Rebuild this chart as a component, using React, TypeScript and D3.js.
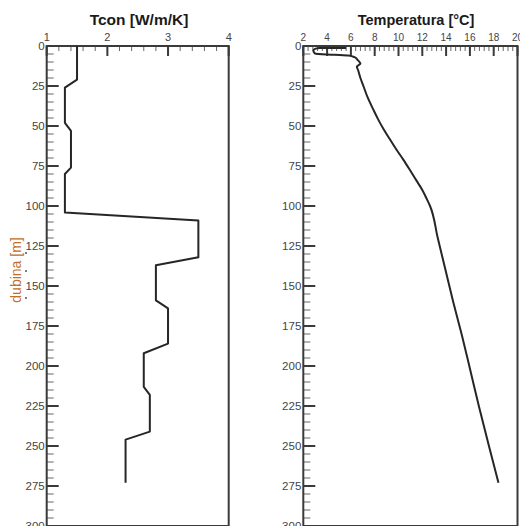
import * as d3 from 'd3';

// Tcon profile (thermal conductivity vs depth)
const tconDepth = [0, 21, 26, 48, 53, 76, 80, 104, 109, 132, 137, 159, 164, 186, 192, 213, 218, 241, 246, 273];
const tconValue = [1.5, 1.5, 1.3, 1.3, 1.4, 1.4, 1.3, 1.3, 3.5, 3.5, 2.8, 2.8, 3.0, 3.0, 2.6, 2.6, 2.7, 2.7, 2.3, 2.3];

// temperature profile
const tempDepth = [1.2, 1.2, 2.2, 3.2, 4.8, 5.5, 6, 7, 9, 11, 13, 15, 20, 25, 32, 40, 46, 52, 58, 65, 71, 78, 84, 90, 96, 100, 120, 140, 160, 180, 200, 225, 250, 273];
const tempValue = [5.6, 3.3, 2.9, 2.85, 3.0, 4.6, 5.8, 6.3, 6.6, 6.8, 6.5, 6.6, 6.8, 7.05, 7.4, 7.9, 8.3, 8.75, 9.25, 9.85, 10.4, 11.0, 11.5, 12.0, 12.4, 12.65, 13.3, 13.95, 14.6, 15.3, 15.95, 16.75, 17.6, 18.4];

const depthTicks = d3.range(0, 301, 25);
const depthMinor = d3.range(0, 301, 5);
const tconTicks = [1, 2, 3, 4];
const tempTicks = d3.range(2, 21, 2);

const W = 520;
const H = 526;
const frameColor = '#3a3a3a';
const textColor = '#454545';
const font = '"Liberation Sans", Arial, sans-serif';

const y = d3.scaleLinear().domain([0, 300]).range([46, 526]);
const xTcon = d3.scaleLinear().domain([1, 4]).range([46.7, 228.7]);
const xTemp = d3.scaleLinear().domain([2, 20]).range([303.3, 517.5]);

interface PanelProps {
  x: d3.ScaleLinear<number, number>
  ticks: number[]
  minor: number[]
  title: string
  titleX: number
  titleSize: number
  depth: number[]
  values: number[]
  curve: d3.CurveFactory
  topFont: number
}

const Panel = ({ x, ticks, minor, title, titleX, titleSize, depth, values, curve, topFont }: PanelProps) => {
  const [x0, x1] = x.range();
  const [y0, y1] = y.range();
  const pts = depth.map((d, i) => [values[i], d] as [number, number]);
  const line = d3.line<[number, number]>()
    .x(d => x(d[0]))
    .y(d => y(d[1]))
    .curve(curve);

  return (
    <g>
      <text x={titleX} y={25} textAnchor="middle" fontSize={titleSize} fontWeight="bold"
        fill="#1a1a1a" fontFamily={font}>{title}</text>

      {/* top axis ticks */}
      {minor.map(v => (
        <line key={'mx' + v} x1={x(v)} x2={x(v)} y1={y0} y2={y0 + 5} stroke="#666" strokeWidth={1} />
      ))}
      {ticks.map(v => (
        <g key={'x' + v}>
          <line x1={x(v)} x2={x(v)} y1={y0} y2={y0 + 10} stroke={frameColor} strokeWidth={2} />
          <text x={x(v)} y={40.5} textAnchor="middle" fontSize={topFont} fill={textColor}
            fontFamily={font}>{v}</text>
        </g>
      ))}

      {/* left depth axis ticks */}
      {depthMinor.map(v => (
        <line key={'my' + v} x1={x0} x2={x0 + 7} y1={y(v)} y2={y(v)} stroke="#666" strokeWidth={1} />
      ))}
      {depthTicks.map(v => (
        <g key={'y' + v}>
          <line x1={x0} x2={x0 + 12} y1={y(v)} y2={y(v)} stroke={frameColor} strokeWidth={2} />
          <text x={x0 - 2} y={y(v)} dy="0.35em" textAnchor="end" fontSize={11.5} fill={textColor}
            fontFamily={font}>{v}</text>
        </g>
      ))}

      <rect x={x0} y={y0} width={x1 - x0} height={y1 - y0} fill="none" stroke={frameColor} strokeWidth={2} />

      <path d={line(pts) ?? ''} fill="none" stroke="#262626" strokeWidth={2} strokeLinejoin="round" />
    </g>
  );
};

const App = () => {
  return (
    <svg width={W} height={H} style={{ position: 'absolute', left: 0, top: 0, background: '#fff' }}>
      <rect width={W} height={H} fill="#fff" />
      <Panel x={xTcon} ticks={tconTicks} minor={d3.range(1, 4.001, 0.2)} title="Tcon [W/m/K]"
        titleX={139} titleSize={15.5} depth={tconDepth} values={tconValue} curve={d3.curveLinear} topFont={11} />
      <Panel x={xTemp} ticks={tempTicks} minor={d3.range(2, 20.001, 0.4)} title="Temperatura [°C]"
        titleX={416} titleSize={14.5} depth={tempDepth} values={tempValue} curve={d3.curveMonotoneY} topFont={10} />

      <text transform="translate(21,270) rotate(-90)" textAnchor="middle" fontSize={14}
        fill="#c0702a" fontFamily={font}>dubina [m]</text>
      {[253, 271, 298].map(v => (
        <circle key={v} cx={26} cy={v} r={1} fill="#555" />
      ))}
    </svg>
  );
};

export default App;
